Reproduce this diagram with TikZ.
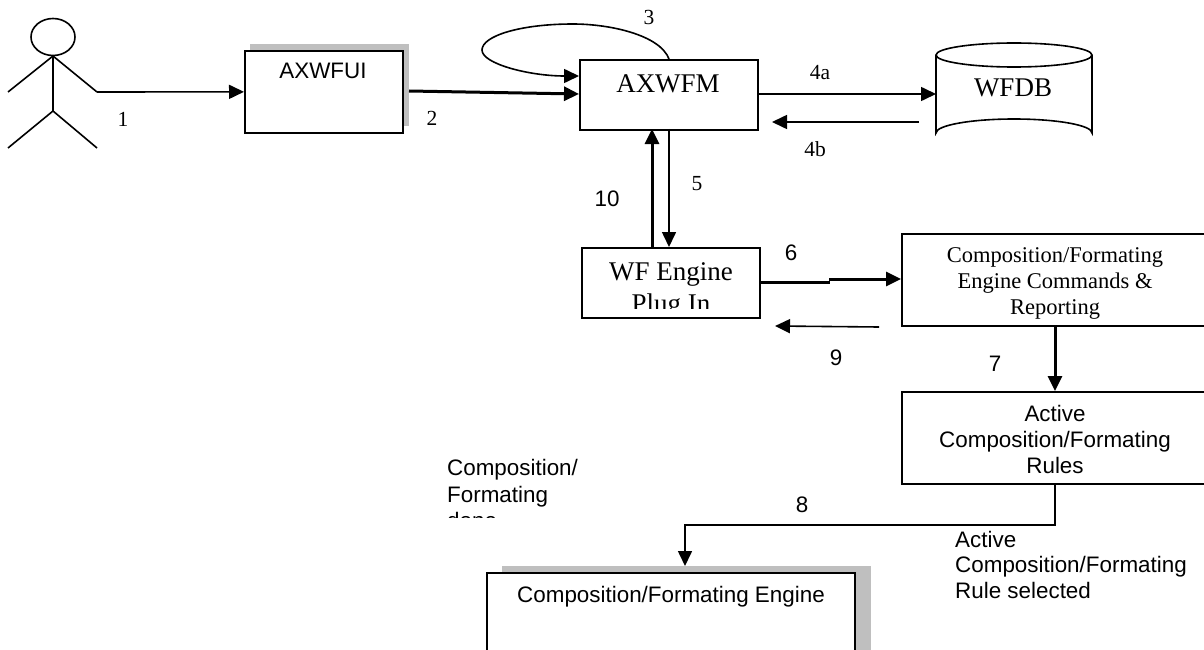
\documentclass[tikz,border=0pt]{standalone}
\usepackage{fontspec}
\setmainfont{Liberation Serif}
\newfontfamily\arialf{Liberation Sans}
\usetikzlibrary{arrows.meta,shapes.geometric}
\tikzset{
  box/.style={draw=black,line width=1.7pt,fill=white,inner sep=0pt,anchor=north west},
  shadowbox/.style={fill=black!25,draw=none},
  arr/.style={line width=1.6pt,-{Triangle[length=15pt,width=14pt]}},
  thickarr/.style={line width=3pt,-{Triangle[length=15pt,width=14pt]}},
  man/.style={line width=1.6pt},
  lbs/.style={font=\fontsize{21.5}{24}\selectfont,inner sep=0pt,anchor=base},
  lbc/.style={font=\fontsize{22.5}{24}\selectfont,inner sep=0pt,anchor=base},
  lba/.style={font=\arialf\fontsize{22.4}{24}\selectfont,inner sep=0pt,anchor=base},
  ttl/.style={font=\fontsize{27}{30}\selectfont,inner sep=0pt,anchor=base},
}
\begin{document}
\begin{tikzpicture}[x=1pt,y=-1pt]
\useasboundingbox (0,0) rectangle (1204,650);
% actor
\node[draw,ellipse,line width=1.6pt,minimum width=44pt,minimum height=37pt,inner sep=0pt] (head) at (53,37) {};
\coordinate (neck) at (53,56);
\coordinate (hand) at (97,92);
\coordinate (handl) at (8,92);
\coordinate (hip) at (53,111);
\coordinate (footl) at (8,148);
\coordinate (footr) at (97,148);
\draw[man] (handl)--(neck)--(hand);
\draw[man] (neck)--(hip);
\draw[man] (footl)--(hip)--(footr);
% AXWFUI
\fill[shadowbox] (250,44) rectangle (409,126);
\node[box,minimum width=158pt,minimum height=82pt] (ui) at (244,50) {};
\node[lba] (uit) at (323,79) {AXWFUI};
\draw[arr] (hand) -- (ui.west);
\node[lbs] (l1) at (123,127) {1};
\node[lbs] (l2) at (432,125) {2};
% AXWFM
\node[box,minimum width=178pt,minimum height=70pt] (wfm) at (579,59) {};
\node[ttl] (wfmt) at (668,93) {AXWFM};
\coordinate (s2) at (409,91);
\draw[thickarr] (s2) -- (wfm.west |- 0,94);
\coordinate (loopa) at (669,59);
\coordinate (loopb) at (579,76);
\draw[arr] (loopa) .. controls (660,35) and (610,24) .. (573,24) .. controls (520,24) and (482,36) .. (482,50) .. controls (482,64) and (530,76) .. (loopb);
\node[lbs] (l3) at (649,25) {3};
% WFDB
\path[draw,fill=white,line width=1.6pt] (936,55) -- (936,133) arc[start angle=180,end angle=360,x radius=78,y radius=14] -- (1092,55);
\node[draw,ellipse,line width=1.6pt,fill=white,minimum width=156pt,minimum height=24pt,inner sep=0pt] (dbtop) at (1014,55) {};
\node[ttl] (dbt) at (1013,97) {WFDB};
\coordinate (dbw) at (936,94);
\draw[arr] (wfm.east |- 0,94) -- (dbw);
\coordinate (s4b) at (919,122);
\coordinate (e4b) at (772,122);
\draw[arr] (s4b) -- (e4b);
\node[lbs] (l4a) at (820,80) {4a};
\node[lbs] (l4b) at (815,156) {4b};
% WF Engine
\node[box,minimum width=178pt,minimum height=70pt] (eng) at (581,247) {};
\begin{scope}
\clip (582,248) rectangle (758,308);
\node[ttl] (engt) at (671,280) {WF Engine};
\node[ttl] (engp) at (671,312) {Plug In};
\end{scope}
\draw[thickarr] (652,247) -- (652,129);
\draw[arr] (669,129) -- (669,247);
\node[lba] (l10) at (607,206) {10};
\node[lbs] (l5) at (697,190) {5};
% Command box
\node[box,minimum width=310pt,minimum height=92pt] (cmd) at (901,233) {};
\node[lbc] (cmda) at (1055,262) {Composition/Formating};
\node[lbc] (cmdb) at (1055,288) {Engine Commands \&};
\node[lbc] (cmdc) at (1055,314) {Reporting};
\coordinate (m6) at (830,282);
\coordinate (m6b) at (829,279);
\draw[line width=3pt] (eng.east |- 0,282) -- (m6);
\draw[thickarr] (m6b) -- (cmd.west |- 0,279);
\node[lba] (l6) at (791,260) {6};
\coordinate (s9) at (879,327);
\coordinate (e9) at (775,326);
\draw[arr] (s9) -- (e9);
\node[lba] (l9) at (836,365) {9};
\node[lba] (l7) at (995,371) {7};
% Active rules
\node[box,minimum width=310pt,minimum height=92pt] (act) at (901,391) {};
\node[lba] (acta) at (1055,421) {Active};
\node[lba] (actb) at (1055,447) {Composition/Formating};
\node[lba] (actc) at (1055,473) {Rules};
\coordinate (s7) at (1055,325);
\draw[thickarr] (s7) -- (1055,391);
% Engine box
\fill[shadowbox] (502,566) rectangle (871,650);
\draw[line width=1.7pt,fill=white] (487,652) -- (487,573) -- (855,573) -- (855,652);
\coordinate (engn) at (685,566);
\node[lba] (cet) at (671,602) {Composition/Formating Engine};
\coordinate (c8) at (1055,483);
\draw[arr] (c8) -- (1055,525) -- (685,525) -- (engn);
\node[lba] (l8) at (802,512) {8};
% free text
\begin{scope}
\clip (440,440) rectangle (640,517);
\node[lba,anchor=base west] (dna) at (447,475) {Composition/};
\node[lba,anchor=base west] (dnb) at (447,502) {Formating};
\node[lba,anchor=base west] (dnc) at (447,528) {done};
\end{scope}
\node[lba,anchor=base west] (sela) at (955,547) {Active};
\node[lba,anchor=base west] (selb) at (955,572) {Composition/Formating};
\node[lba,anchor=base west] (selc) at (955,598) {Rule selected};
\end{tikzpicture}
\end{document}
